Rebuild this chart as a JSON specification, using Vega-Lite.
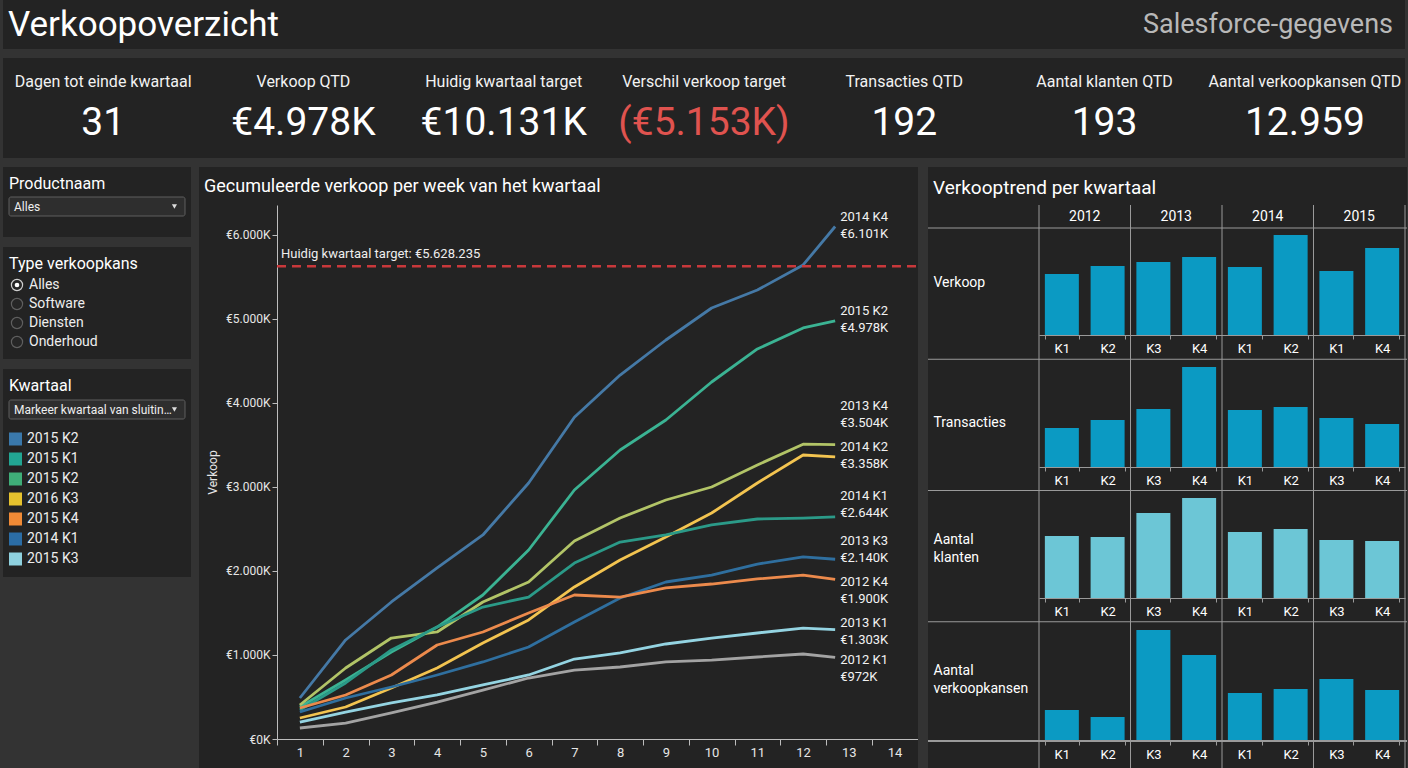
{
  "$schema": "https://vega.github.io/schema/vega-lite/v6.json",
  "background": "#333333",
  "padding": {"left": 3, "right": 3, "top": 0, "bottom": 0},
  "bounds": "flush",
  "spacing": 9,
  "config": {
    "font": "Roboto",
    "view": {"fill": "#232323", "stroke": null},
    "locale": {"number": {"decimal": ",", "thousands": ".", "grouping": [3], "currency": ["€", ""]}},
    "title": {"color": "#ffffff", "fontWeight": "normal", "anchor": "start", "frame": "group", "baseline": "middle"},
    "axis": {"grid": false, "labelFont": "Roboto", "titleFont": "Roboto"}
  },
  "datasets": {
    "kpi": [
      {"kpi": "Dagen tot einde kwartaal", "waarde": 31, "soort": "aantal"},
      {"kpi": "Verkoop QTD", "waarde": 4978, "soort": "bedrag"},
      {"kpi": "Huidig kwartaal target", "waarde": 10131, "soort": "bedrag"},
      {"kpi": "Verschil verkoop target", "waarde": -5153, "soort": "bedrag"},
      {"kpi": "Transacties QTD", "waarde": 192, "soort": "aantal"},
      {"kpi": "Aantal klanten QTD", "waarde": 193, "soort": "aantal"},
      {"kpi": "Aantal verkoopkansen QTD", "waarde": 12959, "soort": "aantal"}
    ],
    "legenda": [
      {"nr": 1, "kwartaal": "2015 K2"},
      {"nr": 2, "kwartaal": "2015 K1"},
      {"nr": 3, "kwartaal": "2015 K2"},
      {"nr": 4, "kwartaal": "2016 K3"},
      {"nr": 5, "kwartaal": "2015 K4"},
      {"nr": 6, "kwartaal": "2014 K1"},
      {"nr": 7, "kwartaal": "2015 K3"}
    ],
    "reeksen": [
      {"kwartaal": "2014 K4", "week": 1, "verkoop": 488},
      {"kwartaal": "2014 K4", "week": 2, "verkoop": 1179},
      {"kwartaal": "2014 K4", "week": 3, "verkoop": 1631},
      {"kwartaal": "2014 K4", "week": 4, "verkoop": 2036},
      {"kwartaal": "2014 K4", "week": 5, "verkoop": 2429},
      {"kwartaal": "2014 K4", "week": 6, "verkoop": 3048},
      {"kwartaal": "2014 K4", "week": 7, "verkoop": 3830},
      {"kwartaal": "2014 K4", "week": 8, "verkoop": 4333},
      {"kwartaal": "2014 K4", "week": 9, "verkoop": 4750},
      {"kwartaal": "2014 K4", "week": 10, "verkoop": 5131},
      {"kwartaal": "2014 K4", "week": 11, "verkoop": 5345},
      {"kwartaal": "2014 K4", "week": 12, "verkoop": 5643},
      {"kwartaal": "2014 K4", "week": 12.7, "verkoop": 6101},
      {"kwartaal": "2015 K2", "week": 1, "verkoop": 381},
      {"kwartaal": "2015 K2", "week": 2, "verkoop": 702},
      {"kwartaal": "2015 K2", "week": 3, "verkoop": 1036},
      {"kwartaal": "2015 K2", "week": 4, "verkoop": 1333},
      {"kwartaal": "2015 K2", "week": 5, "verkoop": 1714},
      {"kwartaal": "2015 K2", "week": 6, "verkoop": 2250},
      {"kwartaal": "2015 K2", "week": 7, "verkoop": 2964},
      {"kwartaal": "2015 K2", "week": 8, "verkoop": 3440},
      {"kwartaal": "2015 K2", "week": 9, "verkoop": 3798},
      {"kwartaal": "2015 K2", "week": 10, "verkoop": 4250},
      {"kwartaal": "2015 K2", "week": 11, "verkoop": 4643},
      {"kwartaal": "2015 K2", "week": 12, "verkoop": 4893},
      {"kwartaal": "2015 K2", "week": 12.7, "verkoop": 4978},
      {"kwartaal": "2013 K4", "week": 1, "verkoop": 405},
      {"kwartaal": "2013 K4", "week": 2, "verkoop": 845},
      {"kwartaal": "2013 K4", "week": 3, "verkoop": 1202},
      {"kwartaal": "2013 K4", "week": 4, "verkoop": 1274},
      {"kwartaal": "2013 K4", "week": 5, "verkoop": 1631},
      {"kwartaal": "2013 K4", "week": 6, "verkoop": 1869},
      {"kwartaal": "2013 K4", "week": 7, "verkoop": 2357},
      {"kwartaal": "2013 K4", "week": 8, "verkoop": 2631},
      {"kwartaal": "2013 K4", "week": 9, "verkoop": 2845},
      {"kwartaal": "2013 K4", "week": 10, "verkoop": 3000},
      {"kwartaal": "2013 K4", "week": 11, "verkoop": 3262},
      {"kwartaal": "2013 K4", "week": 12, "verkoop": 3510},
      {"kwartaal": "2013 K4", "week": 12.7, "verkoop": 3504},
      {"kwartaal": "2014 K2", "week": 1, "verkoop": 250},
      {"kwartaal": "2014 K2", "week": 2, "verkoop": 381},
      {"kwartaal": "2014 K2", "week": 3, "verkoop": 607},
      {"kwartaal": "2014 K2", "week": 4, "verkoop": 845},
      {"kwartaal": "2014 K2", "week": 5, "verkoop": 1143},
      {"kwartaal": "2014 K2", "week": 6, "verkoop": 1417},
      {"kwartaal": "2014 K2", "week": 7, "verkoop": 1810},
      {"kwartaal": "2014 K2", "week": 8, "verkoop": 2131},
      {"kwartaal": "2014 K2", "week": 9, "verkoop": 2405},
      {"kwartaal": "2014 K2", "week": 10, "verkoop": 2690},
      {"kwartaal": "2014 K2", "week": 11, "verkoop": 3048},
      {"kwartaal": "2014 K2", "week": 12, "verkoop": 3381},
      {"kwartaal": "2014 K2", "week": 12.7, "verkoop": 3358},
      {"kwartaal": "2014 K1", "week": 1, "verkoop": 345},
      {"kwartaal": "2014 K1", "week": 2, "verkoop": 667},
      {"kwartaal": "2014 K1", "week": 3, "verkoop": 1060},
      {"kwartaal": "2014 K1", "week": 4, "verkoop": 1333},
      {"kwartaal": "2014 K1", "week": 5, "verkoop": 1571},
      {"kwartaal": "2014 K1", "week": 6, "verkoop": 1690},
      {"kwartaal": "2014 K1", "week": 7, "verkoop": 2095},
      {"kwartaal": "2014 K1", "week": 8, "verkoop": 2345},
      {"kwartaal": "2014 K1", "week": 9, "verkoop": 2429},
      {"kwartaal": "2014 K1", "week": 10, "verkoop": 2548},
      {"kwartaal": "2014 K1", "week": 11, "verkoop": 2619},
      {"kwartaal": "2014 K1", "week": 12, "verkoop": 2630},
      {"kwartaal": "2014 K1", "week": 12.7, "verkoop": 2644},
      {"kwartaal": "2013 K3", "week": 1, "verkoop": 321},
      {"kwartaal": "2013 K3", "week": 2, "verkoop": 488},
      {"kwartaal": "2013 K3", "week": 3, "verkoop": 619},
      {"kwartaal": "2013 K3", "week": 4, "verkoop": 762},
      {"kwartaal": "2013 K3", "week": 5, "verkoop": 917},
      {"kwartaal": "2013 K3", "week": 6, "verkoop": 1095},
      {"kwartaal": "2013 K3", "week": 7, "verkoop": 1393},
      {"kwartaal": "2013 K3", "week": 8, "verkoop": 1679},
      {"kwartaal": "2013 K3", "week": 9, "verkoop": 1869},
      {"kwartaal": "2013 K3", "week": 10, "verkoop": 1952},
      {"kwartaal": "2013 K3", "week": 11, "verkoop": 2083},
      {"kwartaal": "2013 K3", "week": 12, "verkoop": 2167},
      {"kwartaal": "2013 K3", "week": 12.7, "verkoop": 2140},
      {"kwartaal": "2012 K4", "week": 1, "verkoop": 369},
      {"kwartaal": "2012 K4", "week": 2, "verkoop": 524},
      {"kwartaal": "2012 K4", "week": 3, "verkoop": 762},
      {"kwartaal": "2012 K4", "week": 4, "verkoop": 1119},
      {"kwartaal": "2012 K4", "week": 5, "verkoop": 1274},
      {"kwartaal": "2012 K4", "week": 6, "verkoop": 1500},
      {"kwartaal": "2012 K4", "week": 7, "verkoop": 1714},
      {"kwartaal": "2012 K4", "week": 8, "verkoop": 1690},
      {"kwartaal": "2012 K4", "week": 9, "verkoop": 1798},
      {"kwartaal": "2012 K4", "week": 10, "verkoop": 1845},
      {"kwartaal": "2012 K4", "week": 11, "verkoop": 1905},
      {"kwartaal": "2012 K4", "week": 12, "verkoop": 1952},
      {"kwartaal": "2012 K4", "week": 12.7, "verkoop": 1900},
      {"kwartaal": "2013 K1", "week": 1, "verkoop": 202},
      {"kwartaal": "2013 K1", "week": 2, "verkoop": 321},
      {"kwartaal": "2013 K1", "week": 3, "verkoop": 429},
      {"kwartaal": "2013 K1", "week": 4, "verkoop": 524},
      {"kwartaal": "2013 K1", "week": 5, "verkoop": 643},
      {"kwartaal": "2013 K1", "week": 6, "verkoop": 762},
      {"kwartaal": "2013 K1", "week": 7, "verkoop": 952},
      {"kwartaal": "2013 K1", "week": 8, "verkoop": 1024},
      {"kwartaal": "2013 K1", "week": 9, "verkoop": 1131},
      {"kwartaal": "2013 K1", "week": 10, "verkoop": 1202},
      {"kwartaal": "2013 K1", "week": 11, "verkoop": 1262},
      {"kwartaal": "2013 K1", "week": 12, "verkoop": 1321},
      {"kwartaal": "2013 K1", "week": 12.7, "verkoop": 1303},
      {"kwartaal": "2012 K1", "week": 1, "verkoop": 131},
      {"kwartaal": "2012 K1", "week": 2, "verkoop": 190},
      {"kwartaal": "2012 K1", "week": 3, "verkoop": 310},
      {"kwartaal": "2012 K1", "week": 4, "verkoop": 440},
      {"kwartaal": "2012 K1", "week": 5, "verkoop": 583},
      {"kwartaal": "2012 K1", "week": 6, "verkoop": 726},
      {"kwartaal": "2012 K1", "week": 7, "verkoop": 821},
      {"kwartaal": "2012 K1", "week": 8, "verkoop": 857},
      {"kwartaal": "2012 K1", "week": 9, "verkoop": 917},
      {"kwartaal": "2012 K1", "week": 10, "verkoop": 940},
      {"kwartaal": "2012 K1", "week": 11, "verkoop": 976},
      {"kwartaal": "2012 K1", "week": 12, "verkoop": 1012},
      {"kwartaal": "2012 K1", "week": 12.7, "verkoop": 972}
    ],
    "trend": [
      {"maatstaf": "Verkoop", "kwartaal": "2012 K1", "waarde": 4030},
      {"maatstaf": "Verkoop", "kwartaal": "2012 K2", "waarde": 4550},
      {"maatstaf": "Verkoop", "kwartaal": "2013 K3", "waarde": 4820},
      {"maatstaf": "Verkoop", "kwartaal": "2013 K4", "waarde": 5150},
      {"maatstaf": "Verkoop", "kwartaal": "2014 K1", "waarde": 4490},
      {"maatstaf": "Verkoop", "kwartaal": "2014 K2", "waarde": 6600},
      {"maatstaf": "Verkoop", "kwartaal": "2015 K1", "waarde": 4220},
      {"maatstaf": "Verkoop", "kwartaal": "2015 K4", "waarde": 5740},
      {"maatstaf": "Transacties", "kwartaal": "2012 K1", "waarde": 117},
      {"maatstaf": "Transacties", "kwartaal": "2012 K2", "waarde": 141},
      {"maatstaf": "Transacties", "kwartaal": "2013 K3", "waarde": 174},
      {"maatstaf": "Transacties", "kwartaal": "2013 K4", "waarde": 300},
      {"maatstaf": "Transacties", "kwartaal": "2014 K1", "waarde": 171},
      {"maatstaf": "Transacties", "kwartaal": "2014 K2", "waarde": 180},
      {"maatstaf": "Transacties", "kwartaal": "2015 K3", "waarde": 147},
      {"maatstaf": "Transacties", "kwartaal": "2015 K4", "waarde": 129},
      {"maatstaf": "Aantal klanten", "kwartaal": "2012 K1", "waarde": 124},
      {"maatstaf": "Aantal klanten", "kwartaal": "2012 K2", "waarde": 122},
      {"maatstaf": "Aantal klanten", "kwartaal": "2013 K3", "waarde": 170},
      {"maatstaf": "Aantal klanten", "kwartaal": "2013 K4", "waarde": 200},
      {"maatstaf": "Aantal klanten", "kwartaal": "2014 K1", "waarde": 132},
      {"maatstaf": "Aantal klanten", "kwartaal": "2014 K2", "waarde": 138},
      {"maatstaf": "Aantal klanten", "kwartaal": "2015 K3", "waarde": 116},
      {"maatstaf": "Aantal klanten", "kwartaal": "2015 K4", "waarde": 114},
      {"maatstaf": "Aantal verkoopkansen", "kwartaal": "2012 K1", "waarde": 3100},
      {"maatstaf": "Aantal verkoopkansen", "kwartaal": "2012 K2", "waarde": 2400},
      {"maatstaf": "Aantal verkoopkansen", "kwartaal": "2013 K3", "waarde": 11100},
      {"maatstaf": "Aantal verkoopkansen", "kwartaal": "2013 K4", "waarde": 8600},
      {"maatstaf": "Aantal verkoopkansen", "kwartaal": "2014 K1", "waarde": 4800},
      {"maatstaf": "Aantal verkoopkansen", "kwartaal": "2014 K2", "waarde": 5200},
      {"maatstaf": "Aantal verkoopkansen", "kwartaal": "2015 K3", "waarde": 6200},
      {"maatstaf": "Aantal verkoopkansen", "kwartaal": "2015 K4", "waarde": 5100}
    ]
  },
  "vconcat": [
    {
      "width": 1402,
      "height": 49,
      "data": {"values": [{"titel": "Verkoopoverzicht", "bron": "Salesforce-gegevens"}]},
      "layer": [
        {
          "mark": {"type": "text", "align": "left", "baseline": "middle", "fontSize": 35, "color": "#ffffff"},
          "encoding": {
            "x": {"datum": "titel", "type": "nominal", "scale": {"type": "point", "domain": ["titel", "bron"], "range": [5, 1390], "padding": 0}, "axis": null},
            "text": {"field": "titel"}
          }
        },
        {
          "mark": {"type": "text", "align": "right", "baseline": "middle", "fontSize": 27, "color": "#b8b8b8"},
          "encoding": {
            "x": {"datum": "bron", "type": "nominal"},
            "text": {"field": "bron"}
          }
        }
      ]
    },
    {
      "width": 1402,
      "height": 100,
      "data": {"name": "kpi"},
      "transform": [
        {"calculate": "datum.soort == 'bedrag' ? (datum.waarde < 0 ? '(€' + format(-datum.waarde, ',') + 'K)' : '€' + format(datum.waarde, ',') + 'K') : format(datum.waarde, ',')", "as": "tekst"}
      ],
      "encoding": {
        "x": {"field": "kpi", "type": "nominal", "sort": null, "scale": {"type": "point", "padding": 0.5}, "axis": null}
      },
      "layer": [
        {
          "mark": {"type": "text", "baseline": "middle", "fontSize": 16, "color": "#f2f2f2"},
          "encoding": {
            "y": {"datum": "kop", "type": "nominal", "scale": {"type": "point", "domain": ["kop", "waarde"], "range": [24, 65], "padding": 0}, "axis": null},
            "text": {"field": "kpi"}
          }
        },
        {
          "mark": {"type": "text", "baseline": "middle", "fontSize": 39},
          "encoding": {
            "y": {"datum": "waarde", "type": "nominal"},
            "text": {"field": "tekst"},
            "color": {"condition": {"test": "datum.waarde < 0", "value": "#e0534f"}, "value": "#ffffff"}
          }
        }
      ]
    },
    {
      "hconcat": [
        {
          "vconcat": [
            {
              "width": 188,
              "height": 70,
              "title": {"text": "Productnaam", "fontSize": 16, "offset": -25, "dx": 6},
              "data": {"values": [{"keuze": "Alles"}]},
              "layer": [
                {
                  "mark": {"type": "rect", "fill": "#2e2e2e", "stroke": "#5e5e5e", "strokeWidth": 1, "cornerRadius": 2},
                  "encoding": {
                    "x": {"datum": 0, "type": "quantitative", "scale": {"domain": [0, 1], "range": [6, 182]}, "axis": null},
                    "x2": {"datum": 1},
                    "y": {"datum": 0, "type": "quantitative", "scale": {"domain": [0, 1], "range": [30, 49]}, "axis": null},
                    "y2": {"datum": 1}
                  }
                },
                {
                  "mark": {"type": "text", "align": "left", "baseline": "middle", "dx": 5, "fontSize": 12, "color": "#eeeeee"},
                  "encoding": {
                    "x": {"datum": 0, "type": "quantitative"},
                    "y": {"datum": 0.5, "type": "quantitative"},
                    "text": {"field": "keuze"}
                  }
                },
                {
                  "mark": {"type": "point", "shape": "triangle-down", "filled": true, "size": 26, "color": "#dddddd", "opacity": 1},
                  "encoding": {
                    "x": {"datum": 0.94, "type": "quantitative"},
                    "y": {"datum": 0.5, "type": "quantitative"}
                  }
                }
              ]
            },
            {
              "width": 188,
              "height": 112,
              "title": {"text": "Type verkoopkans", "fontSize": 16, "offset": -25, "dx": 6},
              "data": {"values": [
                {"optie": "Alles", "gekozen": true},
                {"optie": "Software", "gekozen": false},
                {"optie": "Diensten", "gekozen": false},
                {"optie": "Onderhoud", "gekozen": false}
              ]},
              "encoding": {
                "y": {"field": "optie", "type": "nominal", "sort": null, "scale": {"type": "point", "range": [38, 95], "padding": 0}, "axis": null}
              },
              "layer": [
                {
                  "mark": {"type": "point", "shape": "circle", "size": 125, "filled": true, "fill": "#262626", "strokeWidth": 1.2, "opacity": 1},
                  "encoding": {
                    "x": {"datum": "rondje", "type": "nominal", "scale": {"type": "point", "domain": ["rondje", "tekst"], "range": [14, 26], "padding": 0}, "axis": null},
                    "stroke": {"condition": {"test": "datum.gekozen", "value": "#cfcfcf"}, "value": "#5f5f5f"}
                  }
                },
                {
                  "transform": [{"filter": "datum.gekozen"}],
                  "mark": {"type": "point", "shape": "circle", "size": 22, "filled": true, "color": "#ffffff", "opacity": 1},
                  "encoding": {"x": {"datum": "rondje", "type": "nominal"}}
                },
                {
                  "mark": {"type": "text", "align": "left", "baseline": "middle", "fontSize": 14, "color": "#eeeeee"},
                  "encoding": {
                    "x": {"datum": "tekst", "type": "nominal"},
                    "text": {"field": "optie"}
                  }
                }
              ]
            },
            {
              "width": 188,
              "height": 208,
              "title": {"text": "Kwartaal", "fontSize": 16, "offset": -25, "dx": 6},
              "layer": [
                {
                  "data": {"values": [{"keuze": "Markeer kwartaal van sluitingsdatum"}]},
                  "layer": [
                    {
                      "mark": {"type": "rect", "fill": "#2e2e2e", "stroke": "#5e5e5e", "strokeWidth": 1, "cornerRadius": 2},
                      "encoding": {
                        "x": {"datum": 0, "type": "quantitative", "scale": {"domain": [0, 1], "range": [6, 182]}, "axis": null},
                        "x2": {"datum": 1},
                        "y": {"datum": 0, "type": "quantitative", "scale": {"domain": [0, 1], "range": [31, 50]}, "axis": null},
                        "y2": {"datum": 1}
                      }
                    },
                    {
                      "mark": {"type": "text", "align": "left", "baseline": "middle", "dx": 5, "fontSize": 12, "color": "#eeeeee", "limit": 158},
                      "encoding": {
                        "x": {"datum": 0, "type": "quantitative"},
                        "y": {"datum": 0.5, "type": "quantitative"},
                        "text": {"field": "keuze"}
                      }
                    },
                    {
                      "mark": {"type": "point", "shape": "triangle-down", "filled": true, "size": 26, "color": "#dddddd", "opacity": 1},
                      "encoding": {
                        "x": {"datum": 0.94, "type": "quantitative"},
                        "y": {"datum": 0.5, "type": "quantitative"}
                      }
                    }
                  ]
                },
                {
                  "data": {"name": "legenda"},
                  "encoding": {
                    "y": {"field": "nr", "type": "ordinal", "scale": {"type": "point", "range": [70, 190], "padding": 0}, "axis": null}
                  },
                  "layer": [
                    {
                      "mark": {"type": "point", "shape": "square", "size": 169, "filled": true, "opacity": 1},
                      "encoding": {
                        "x": {"datum": "vak", "type": "nominal", "scale": {"type": "point", "domain": ["vak", "tekst"], "range": [12.5, 24], "padding": 0}, "axis": null},
                        "fill": {"field": "nr", "type": "nominal", "scale": {"range": ["#3a78ab", "#22a693", "#3fae78", "#e6c22e", "#f08a36", "#2b6da6", "#8fd1df"]}, "legend": null}
                      }
                    },
                    {
                      "mark": {"type": "text", "align": "left", "baseline": "middle", "fontSize": 14, "color": "#eeeeee"},
                      "encoding": {
                        "x": {"datum": "tekst", "type": "nominal"},
                        "text": {"field": "kwartaal"}
                      }
                    }
                  ]
                }
              ],
              "resolve": {"scale": {"x": "independent", "y": "independent"}}
            }
          ],
          "spacing": 10,
          "bounds": "flush"
        },
        {
          "width": 719,
          "height": 601,
          "title": {"text": "Gecumuleerde verkoop per week van het kwartaal", "fontSize": 18, "offset": -29, "dx": 5},
          "layer": [
            {
              "data": {"name": "reeksen"},
              "mark": {"type": "line", "strokeWidth": 2.8, "strokeJoin": "round"},
              "encoding": {
                "x": {
                  "field": "week", "type": "quantitative",
                  "scale": {"domain": [0.5, 14.5], "range": [78, 718.5], "nice": false, "zero": false},
                  "axis": {
                    "orient": "bottom", "offset": -29, "title": null,
                    "values": [1, 2, 3, 4, 5, 6, 7, 8, 9, 10, 11, 12, 13, 14, 15],
                    "tickOffset": -22.87, "labelOffset": 22.87,
                    "labelExpr": "datum.value > 14 ? '' : datum.label",
                    "tickSize": 6, "tickColor": "#bdbdbd", "domainColor": "#bdbdbd",
                    "labelColor": "#e6e6e6", "labelFontSize": 13, "labelPadding": 1,
                    "labelFlush": false, "labelOverlap": false
                  }
                },
                "y": {
                  "field": "verkoop", "type": "quantitative",
                  "scale": {"domain": [0, 6357], "range": [572, 38], "nice": false},
                  "axis": {
                    "orient": "left", "offset": -78,
                    "values": [0, 1000, 2000, 3000, 4000, 5000, 6000],
                    "labelExpr": "'€' + format(datum.value, ',') + 'K'",
                    "tickSize": 5, "tickColor": "#bdbdbd", "domainColor": "#bdbdbd",
                    "labelColor": "#e6e6e6", "labelFontSize": 12, "labelPadding": 2,
                    "title": "Verkoop", "titleColor": "#e6e6e6", "titleFontSize": 12, "titleFontWeight": "normal",
                    "titleX": -65, "titleY": 305, "titleAngle": -90, "titleBaseline": "middle", "titleAlign": "center"
                  }
                },
                "color": {
                  "field": "kwartaal", "type": "nominal",
                  "scale": {
                    "domain": ["2014 K4", "2015 K2", "2013 K4", "2014 K2", "2014 K1", "2013 K3", "2012 K4", "2013 K1", "2012 K1"],
                    "range": ["#4579a6", "#3bb393", "#b2c467", "#f3c450", "#2b9a88", "#2f6f9f", "#ec8a4c", "#94d4e2", "#a3a3a3"]
                  },
                  "legend": null
                }
              }
            },
            {
              "data": {"values": [{"doel": 5628.235}]},
              "mark": {"type": "rule", "color": "#c8383b", "strokeWidth": 2.5, "strokeDash": [9, 6]},
              "encoding": {
                "x": {"datum": 0.5, "type": "quantitative"},
                "x2": {"datum": 14.5},
                "y": {"field": "doel", "type": "quantitative"}
              }
            },
            {
              "data": {"values": [{"doel": 5628.235}]},
              "transform": [{"calculate": "'Huidig kwartaal target: €' + format(datum.doel * 1000, ',.0f')", "as": "label"}],
              "mark": {"type": "text", "align": "left", "baseline": "alphabetic", "dx": 4, "dy": -8, "fontSize": 13, "color": "#eeeeee"},
              "encoding": {
                "x": {"datum": 0.5, "type": "quantitative"},
                "y": {"field": "doel", "type": "quantitative"},
                "text": {"field": "label"}
              }
            },
            {
              "data": {"name": "reeksen"},
              "transform": [
                {"filter": "datum.week == 12.7 && indexof(['2014 K4', '2015 K2', '2014 K2'], datum.kwartaal) >= 0"},
                {"calculate": "[datum.kwartaal, '€' + format(datum.verkoop, ',') + 'K']", "as": "label"}
              ],
              "mark": {"type": "text", "align": "left", "baseline": "middle", "dx": 5, "dy": -10, "fontSize": 13, "lineHeight": 17, "color": "#f2f2f2"},
              "encoding": {
                "x": {"field": "week", "type": "quantitative"},
                "y": {"field": "verkoop", "type": "quantitative"},
                "text": {"field": "label"}
              }
            },
            {
              "data": {"name": "reeksen"},
              "transform": [
                {"filter": "datum.week == 12.7 && datum.kwartaal == '2013 K1'"},
                {"calculate": "[datum.kwartaal, '€' + format(datum.verkoop, ',') + 'K']", "as": "label"}
              ],
              "mark": {"type": "text", "align": "left", "baseline": "middle", "dx": 5, "dy": -7, "fontSize": 13, "lineHeight": 17, "color": "#f2f2f2"},
              "encoding": {
                "x": {"field": "week", "type": "quantitative"},
                "y": {"field": "verkoop", "type": "quantitative"},
                "text": {"field": "label"}
              }
            },
            {
              "data": {"name": "reeksen"},
              "transform": [
                {"filter": "datum.week == 12.7 && datum.kwartaal == '2013 K4'"},
                {"calculate": "[datum.kwartaal, '€' + format(datum.verkoop, ',') + 'K']", "as": "label"}
              ],
              "mark": {"type": "text", "align": "left", "baseline": "middle", "dx": 5, "dy": -39, "fontSize": 13, "lineHeight": 17, "color": "#f2f2f2"},
              "encoding": {
                "x": {"field": "week", "type": "quantitative"},
                "y": {"field": "verkoop", "type": "quantitative"},
                "text": {"field": "label"}
              }
            },
            {
              "data": {"name": "reeksen"},
              "transform": [
                {"filter": "datum.week == 12.7 && datum.kwartaal == '2014 K1'"},
                {"calculate": "[datum.kwartaal, '€' + format(datum.verkoop, ',') + 'K']", "as": "label"}
              ],
              "mark": {"type": "text", "align": "left", "baseline": "middle", "dx": 5, "dy": -21, "fontSize": 13, "lineHeight": 17, "color": "#f2f2f2"},
              "encoding": {
                "x": {"field": "week", "type": "quantitative"},
                "y": {"field": "verkoop", "type": "quantitative"},
                "text": {"field": "label"}
              }
            },
            {
              "data": {"name": "reeksen"},
              "transform": [
                {"filter": "datum.week == 12.7 && datum.kwartaal == '2013 K3'"},
                {"calculate": "[datum.kwartaal, '€' + format(datum.verkoop, ',') + 'K']", "as": "label"}
              ],
              "mark": {"type": "text", "align": "left", "baseline": "middle", "dx": 5, "dy": -18, "fontSize": 13, "lineHeight": 17, "color": "#f2f2f2"},
              "encoding": {
                "x": {"field": "week", "type": "quantitative"},
                "y": {"field": "verkoop", "type": "quantitative"},
                "text": {"field": "label"}
              }
            },
            {
              "data": {"name": "reeksen"},
              "transform": [
                {"filter": "datum.week == 12.7 && (datum.kwartaal == '2012 K4' || datum.kwartaal == '2012 K1')"},
                {"calculate": "[datum.kwartaal, '€' + format(datum.verkoop, ',') + 'K']", "as": "label"}
              ],
              "mark": {"type": "text", "align": "left", "baseline": "middle", "dx": 5, "dy": 3, "fontSize": 13, "lineHeight": 17, "color": "#f2f2f2"},
              "encoding": {
                "x": {"field": "week", "type": "quantitative"},
                "y": {"field": "verkoop", "type": "quantitative"},
                "text": {"field": "label"}
              }
            }
          ]
        },
        {
          "width": 479,
          "height": 601,
          "title": {"text": "Verkooptrend per kwartaal", "fontSize": 19, "offset": -31, "dx": 5},
          "layer": [
            {
              "data": {"values": [{"maatstaf": "Verkoop"}, {"maatstaf": "Transacties"}, {"maatstaf": "Aantal klanten"}, {"maatstaf": "Aantal verkoopkansen"}]},
              "mark": {"type": "rule", "color": "#9a9a9a", "strokeWidth": 1},
              "encoding": {
                "y": {
                  "field": "maatstaf", "type": "nominal", "sort": null, "bandPosition": 0,
                  "scale": {"type": "band", "range": [61, 586], "paddingInner": 0, "paddingOuter": 0},
                  "axis": {
                    "orient": "left", "offset": -5, "ticks": false, "domain": false, "title": null,
                    "labelAlign": "left", "labelBaseline": "middle", "labelPadding": 0,
                    "labelOffset": {"condition": [{"test": "datum.value == 'Transacties'", "value": -2}, {"test": "indexof(datum.value, 'Aantal') == 0", "value": -16}], "value": -11},
                    "labelFontSize": 14, "labelColor": "#ffffff", "labelLineHeight": 18, "labelLimit": 200,
                    "labelExpr": "indexof(datum.value, 'Aantal') == 0 ? ['Aantal', substring(datum.value, 7)] : datum.value"
                  }
                }
              }
            },
            {
              "data": {"values": [{"jaar": "2012"}, {"jaar": "2013"}, {"jaar": "2014"}, {"jaar": "2015"}]},
              "encoding": {
                "y": {"datum": 0, "type": "quantitative", "scale": {"domain": [0, 1], "range": [601, 38]}, "axis": null},
                "y2": {"datum": 1}
              },
              "layer": [
                {
                  "mark": {"type": "rule", "color": "#9a9a9a", "strokeWidth": 1},
                  "encoding": {
                    "x": {
                      "field": "jaar", "type": "nominal", "sort": null, "bandPosition": 0,
                      "scale": {"type": "band", "range": [111, 477], "paddingInner": 0, "paddingOuter": 0},
                      "axis": {
                        "orient": "top", "offset": -61, "ticks": false, "domain": false, "title": null,
                        "labelAngle": 0, "labelPadding": 5, "labelFontSize": 14, "labelColor": "#ffffff"
                      }
                    }
                  }
                },
                {
                  "transform": [{"filter": "datum.jaar == '2015'"}],
                  "mark": {"type": "rule", "color": "#9a9a9a", "strokeWidth": 1},
                  "encoding": {
                    "x": {"field": "jaar", "type": "nominal", "sort": null, "bandPosition": 1}
                  }
                }
              ]
            },
            {
              "data": {"name": "trend"},
              "transform": [{"filter": "datum.maatstaf == 'Verkoop'"}],
              "mark": {"type": "bar", "color": "#0b9ac3"},
              "encoding": {
                "x": {
                  "field": "kwartaal", "type": "nominal", "sort": null,
                  "scale": {"type": "band", "range": [111, 477], "paddingInner": 0.257, "paddingOuter": 0.128},
                  "axis": {
                    "orient": "bottom", "offset": -433, "title": null, "labelAngle": 0,
                    "labelExpr": "split(datum.label, ' ')[1]", "tickBand": "extent", "tickSize": 4,
                    "tickColor": "#9a9a9a", "domainColor": "#9a9a9a", "labelColor": "#ffffff", "labelFontSize": 13, "labelPadding": 3
                  }
                },
                "y": {"field": "waarde", "type": "quantitative", "scale": {"domain": [0, 6600], "range": [168, 68], "nice": false}, "axis": null}
              }
            },
            {
              "data": {"name": "trend"},
              "transform": [{"filter": "datum.maatstaf == 'Transacties'"}],
              "mark": {"type": "bar", "color": "#0b9ac3"},
              "encoding": {
                "x": {
                  "field": "kwartaal", "type": "nominal", "sort": null,
                  "scale": {"type": "band", "range": [111, 477], "paddingInner": 0.257, "paddingOuter": 0.128},
                  "axis": {
                    "orient": "bottom", "offset": -301, "title": null, "labelAngle": 0,
                    "labelExpr": "split(datum.label, ' ')[1]", "tickBand": "extent", "tickSize": 4,
                    "tickColor": "#9a9a9a", "domainColor": "#9a9a9a", "labelColor": "#ffffff", "labelFontSize": 13, "labelPadding": 3
                  }
                },
                "y": {"field": "waarde", "type": "quantitative", "scale": {"domain": [0, 300], "range": [300, 200], "nice": false}, "axis": null}
              }
            },
            {
              "data": {"name": "trend"},
              "transform": [{"filter": "datum.maatstaf == 'Aantal klanten'"}],
              "mark": {"type": "bar", "color": "#6cc6d6"},
              "encoding": {
                "x": {
                  "field": "kwartaal", "type": "nominal", "sort": null,
                  "scale": {"type": "band", "range": [111, 477], "paddingInner": 0.257, "paddingOuter": 0.128},
                  "axis": {
                    "orient": "bottom", "offset": -170, "title": null, "labelAngle": 0,
                    "labelExpr": "split(datum.label, ' ')[1]", "tickBand": "extent", "tickSize": 4,
                    "tickColor": "#9a9a9a", "domainColor": "#9a9a9a", "labelColor": "#ffffff", "labelFontSize": 13, "labelPadding": 3
                  }
                },
                "y": {"field": "waarde", "type": "quantitative", "scale": {"domain": [0, 200], "range": [431, 331], "nice": false}, "axis": null}
              }
            },
            {
              "data": {"name": "trend"},
              "transform": [{"filter": "datum.maatstaf == 'Aantal verkoopkansen'"}],
              "layer": [
                {
                  "mark": {"type": "bar", "color": "#0b9ac3"},
                  "encoding": {
                    "x": {
                      "field": "kwartaal", "type": "nominal", "sort": null,
                      "scale": {"type": "band", "range": [111, 477], "paddingInner": 0.257, "paddingOuter": 0.128},
                      "axis": {
                        "orient": "bottom", "offset": -27, "title": null, "labelAngle": 0,
                        "labelExpr": "split(datum.label, ' ')[1]", "tickBand": "extent", "tickSize": 4,
                        "tickColor": "#9a9a9a", "domainColor": "#9a9a9a", "labelColor": "#ffffff", "labelFontSize": 13, "labelPadding": 3
                      }
                    },
                    "y": {"field": "waarde", "type": "quantitative", "scale": {"domain": [0, 11100], "range": [574, 463], "nice": false}, "axis": null}
                  }
                },
                {
                  "mark": {"type": "rule", "color": "#9a9a9a", "strokeWidth": 1},
                  "encoding": {"y": {"datum": 0, "type": "quantitative"}}
                }
              ]
            }
          ],
          "resolve": {"scale": {"x": "independent", "y": "independent"}, "axis": {"x": "independent", "y": "independent"}}
        }
      ],
      "spacing": 8,
      "bounds": "full",
      "resolve": {"scale": {"color": "independent", "fill": "independent"}}
    }
  ]
}
